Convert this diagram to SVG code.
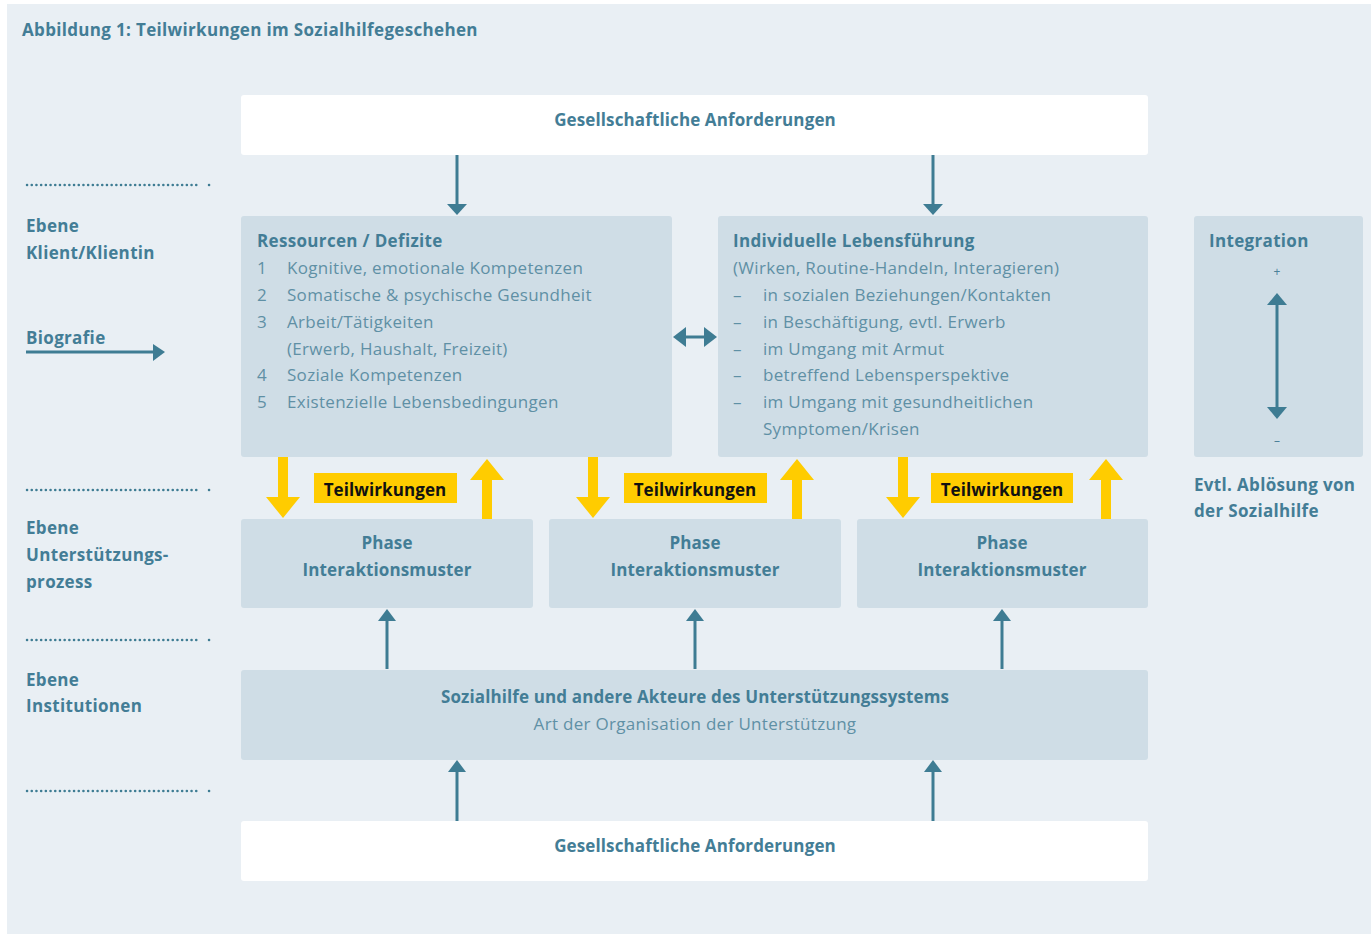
<svg xmlns="http://www.w3.org/2000/svg" width="1371" height="934" viewBox="0 0 1371 934">
<defs>
<style>
text{font-family:"Open Sans","Noto Sans","Liberation Sans",sans-serif;fill:#4b8199;transform:translateY(1px)}
.b{font-weight:700;font-size:17px;fill:#437d96;letter-spacing:0.33px}
.n{font-size:17px;fill:#5f90a5;letter-spacing:0.3px}
.c{text-anchor:middle}
.b.c{letter-spacing:0.12px}
.box{fill:#cfdde6}
.wbox{fill:#ffffff}
.ln{stroke:#3e7c93;stroke-width:3;fill:none}
.dot{stroke:#3e7c93;stroke-width:2.5;stroke-dasharray:0.1 4.6;stroke-linecap:round;fill:none}
.y{fill:#ffcc00}
.tw{font-weight:700;font-size:17px;fill:#111;text-anchor:middle;letter-spacing:0.1px}
.ar{fill:#3e7c93}
</style>
</defs>
<rect x="7" y="4" width="1364" height="930" fill="#e9eff4"/>
<text x="22" y="35" class="b">Abbildung 1: Teilwirkungen im Sozialhilfegeschehen</text>

<g id="left-labels">
<path class="dot" d="M27 185H200M209 185H210"/>
<text x="26" y="231" class="b">Ebene</text>
<text x="26" y="258" class="b">Klient/Klientin</text>
<text x="26" y="343" class="b">Biografie</text>
<path class="dot" d="M27 490H200M209 490H210"/>
<text x="26" y="533" class="b">Ebene</text>
<text x="26" y="560" class="b">Unterstützungs-</text>
<text x="26" y="587" class="b">prozess</text>
<path class="dot" d="M27 640H200M209 640H210"/>
<text x="26" y="685" class="b">Ebene</text>
<text x="26" y="711" class="b">Institutionen</text>
<path class="dot" d="M27 791H200M209 791H210"/>
</g>

<g id="top-requirements">
<rect x="241" y="95" width="907" height="60" rx="3" class="wbox"/>
<text x="695" y="125" class="b c">Gesellschaftliche Anforderungen</text>
</g>

<g id="ressourcen">
<rect x="241" y="216" width="431" height="241" rx="3" class="box"/>
<text x="257" y="246" class="b">Ressourcen / Defizite</text>
<text x="257" y="273" class="n">1</text><text x="287" y="273" class="n">Kognitive, emotionale Kompetenzen</text>
<text x="257" y="300" class="n">2</text><text x="287" y="300" class="n">Somatische &amp; psychische Gesundheit</text>
<text x="257" y="327" class="n">3</text><text x="287" y="327" class="n">Arbeit/Tätigkeiten</text>
<text x="287" y="354" class="n">(Erwerb, Haushalt, Freizeit)</text>
<text x="257" y="380" class="n">4</text><text x="287" y="380" class="n">Soziale Kompetenzen</text>
<text x="257" y="407" class="n">5</text><text x="287" y="407" class="n">Existenzielle Lebensbedingungen</text>
</g>

<g id="lebensfuehrung">
<rect x="718" y="216" width="430" height="241" rx="3" class="box"/>
<text x="733" y="246" class="b">Individuelle Lebensführung</text>
<text x="733" y="273" class="n">(Wirken, Routine-Handeln, Interagieren)</text>
<text x="733" y="300" class="n">–</text><text x="763" y="300" class="n">in sozialen Beziehungen/Kontakten</text>
<text x="733" y="327" class="n">–</text><text x="763" y="327" class="n">in Beschäftigung, evtl. Erwerb</text>
<text x="733" y="354" class="n">–</text><text x="763" y="354" class="n">im Umgang mit Armut</text>
<text x="733" y="380" class="n">–</text><text x="763" y="380" class="n">betreffend Lebensperspektive</text>
<text x="733" y="407" class="n">–</text><text x="763" y="407" class="n">im Umgang mit gesundheitlichen</text>
<text x="763" y="434" class="n">Symptomen/Krisen</text>
</g>

<g id="integration">
<rect x="1194" y="216" width="169" height="241" rx="3" class="box"/>
<text x="1209" y="246" class="b">Integration</text>
<text x="1277" y="275" class="c" style="font-size:12px">+</text>
<text x="1277" y="444" class="c" style="font-size:12px">–</text>
<text x="1194" y="490" class="b">Evtl. Ablösung von</text>
<text x="1194" y="516" class="b">der Sozialhilfe</text>
</g>

<g id="phase1">
<rect x="241" y="519" width="292" height="89" rx="3" class="box"/>
<text x="387" y="548" class="b c">Phase</text>
<text x="387" y="575" class="b c">Interaktionsmuster</text>
</g>
<g id="phase2">
<rect x="549" y="519" width="292" height="89" rx="3" class="box"/>
<text x="695" y="548" class="b c">Phase</text>
<text x="695" y="575" class="b c">Interaktionsmuster</text>
</g>
<g id="phase3">
<rect x="857" y="519" width="291" height="89" rx="3" class="box"/>
<text x="1002" y="548" class="b c">Phase</text>
<text x="1002" y="575" class="b c">Interaktionsmuster</text>
</g>

<g id="sozialhilfe">
<rect x="241" y="670" width="907" height="90" rx="3" class="box"/>
<text x="695" y="702" class="b c">Sozialhilfe und andere Akteure des Unterstützungssystems</text>
<text x="695" y="729" class="n c">Art der Organisation der Unterstützung</text>
</g>

<g id="bottom-requirements">
<rect x="241" y="821" width="907" height="60" rx="3" class="wbox"/>
<text x="695" y="851" class="b c">Gesellschaftliche Anforderungen</text>
</g>

<g id="connectors">
<path class="ln" d="M26 352H155"/>
<path class="ar" d="M153 344L165 352L153 361Z"/>
<path class="ln" d="M457 155V205"/>
<path class="ar" d="M447 204H467L457 215Z"/>
<path class="ln" d="M933 155V205"/>
<path class="ar" d="M923 204H943L933 215Z"/>
<path class="ln" d="M682 337H708"/>
<path class="ar" d="M673 337L686 327V347Z"/>
<path class="ar" d="M717 337L704 327V347Z"/>
<path class="ln" d="M1277 300V410"/>
<path class="ar" d="M1267 305H1287L1277 293Z"/>
<path class="ar" d="M1267 407H1287L1277 419Z"/>
<g class="y">
<rect x="278" y="457" width="10" height="42"/><path d="M266 497H300L283 518Z"/>
<rect x="482" y="478" width="10" height="41"/><path d="M470 480H504L487 459Z"/>
<rect x="588" y="457" width="10" height="42"/><path d="M576 497H610L593 518Z"/>
<rect x="792" y="478" width="10" height="41"/><path d="M780 480H814L797 459Z"/>
<rect x="898" y="457" width="10" height="42"/><path d="M886 497H920L903 518Z"/>
<rect x="1101" y="478" width="10" height="41"/><path d="M1089 480H1123L1106 459Z"/>
<rect x="314" y="473" width="143" height="30"/>
<rect x="624" y="473" width="143" height="30"/>
<rect x="931" y="473" width="142" height="30"/>
</g>
<text x="385" y="495" class="tw">Teilwirkungen</text>
<text x="695" y="495" class="tw">Teilwirkungen</text>
<text x="1002" y="495" class="tw">Teilwirkungen</text>
<path class="ln" d="M387 669V620"/>
<path class="ar" d="M378 621H396L387 609Z"/>
<path class="ln" d="M695 669V620"/>
<path class="ar" d="M686 621H704L695 609Z"/>
<path class="ln" d="M1002 669V620"/>
<path class="ar" d="M993 621H1011L1002 609Z"/>
<path class="ln" d="M457 821V772"/>
<path class="ar" d="M448 772H466L457 760Z"/>
<path class="ln" d="M933 821V772"/>
<path class="ar" d="M924 772H942L933 760Z"/>
</g>
</svg>
